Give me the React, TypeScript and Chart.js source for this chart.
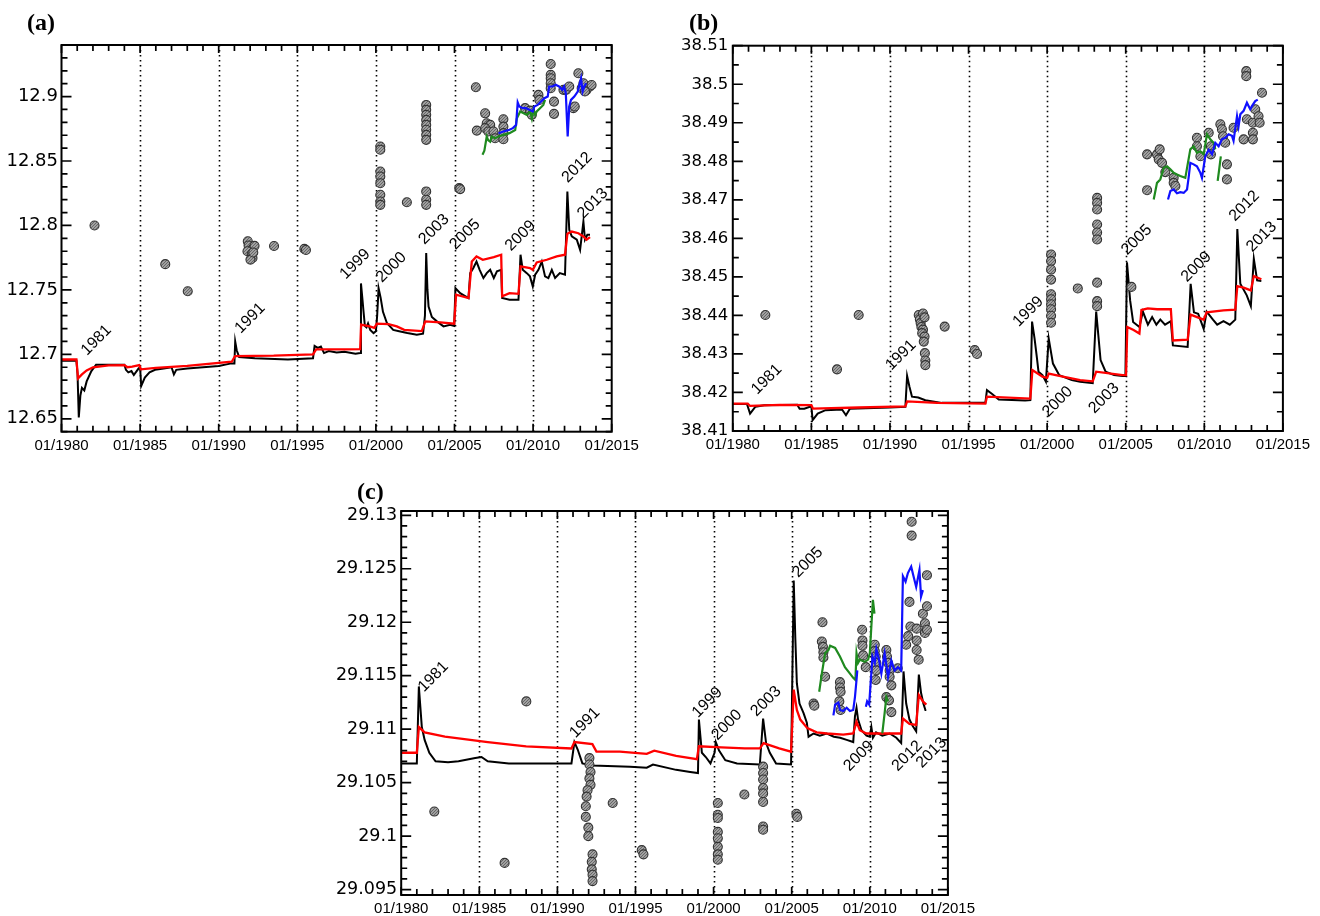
import React, { useEffect, useRef } from 'react';
import { Chart, registerables } from 'chart.js';

Chart.register(...registerables);

type P = [number, number] | null;

// ---------- shared axis data ----------
const xMajorTicks = [1980, 1985, 1990, 1995, 2000, 2005, 2010, 2015];
const dottedYears = [1985, 1990, 1995, 2000, 2005, 2010];
const xMinorStep = 1;

// ---------- panel (a) ----------
const aYTicks = [12.65, 12.7, 12.75, 12.8, 12.85, 12.9];
const aBlack: P[] = [
  [1980.0, 12.695], [1980.95, 12.695], [1981.02, 12.685], [1981.1, 12.651], [1981.2, 12.668], [1981.3, 12.674],
  [1981.45, 12.672], [1981.6, 12.679], [1981.9, 12.687], [1982.2, 12.692], [1983.0, 12.692], [1984.0, 12.692],
  [1984.1, 12.688], [1984.25, 12.686], [1984.45, 12.687], [1984.6, 12.684], [1984.9, 12.689], [1985.0, 12.69],
  [1985.07, 12.6755], [1985.3, 12.682], [1985.6, 12.686], [1985.95, 12.688], [1986.5, 12.689], [1987.0, 12.69],
  [1987.15, 12.6845], [1987.3, 12.688], [1988.0, 12.689], [1989.0, 12.69], [1990.0, 12.691], [1990.8, 12.693],
  [1991.0, 12.693], [1991.05, 12.71], [1991.15, 12.703], [1991.3, 12.698], [1992.3, 12.697], [1994.4, 12.696],
  [1996.0, 12.697], [1996.1, 12.7065], [1996.3, 12.705], [1996.5, 12.706], [1996.7, 12.701], [1997.0, 12.7025],
  [1997.5, 12.7015], [1998.0, 12.702], [1998.7, 12.7005], [1999.0, 12.701], [1999.05, 12.755], [1999.15, 12.742],
  [1999.2, 12.735], [1999.3, 12.722], [1999.4, 12.721], [1999.5, 12.724], [1999.64, 12.719], [1999.85, 12.7165],
  [2000.0, 12.718], [2000.08, 12.73], [2000.17, 12.7514], [2000.3, 12.744], [2000.45, 12.733], [2000.7, 12.7243],
  [2001.1, 12.719], [2001.55, 12.7178], [2002.0, 12.7165], [2002.6, 12.7152], [2003.0, 12.716], [2003.12, 12.73],
  [2003.2, 12.7786], [2003.28, 12.75], [2003.35, 12.737], [2003.56, 12.729], [2003.88, 12.7256], [2004.3, 12.7217],
  [2004.72, 12.723], [2004.98, 12.722], [2005.06, 12.7514], [2005.36, 12.7475], [2005.89, 12.7437], [2006.0, 12.763],
  [2006.2, 12.767], [2006.4, 12.772], [2006.6, 12.7656], [2006.84, 12.7592], [2007.05, 12.763], [2007.27, 12.7656],
  [2007.5, 12.7592], [2007.7, 12.7644], [2007.97, 12.7656], [2008.03, 12.7437], [2008.5, 12.7424], [2009.07, 12.7424],
  [2009.2, 12.7773], [2009.34, 12.7656], [2009.6, 12.763], [2009.8, 12.7605], [2009.98, 12.7527], [2010.13, 12.7618],
  [2010.34, 12.7656], [2010.55, 12.772], [2010.76, 12.7605], [2010.97, 12.7592], [2011.19, 12.7656], [2011.4, 12.7592],
  [2011.7, 12.763], [2012.03, 12.7618], [2012.18, 12.8264], [2012.3, 12.7966], [2012.46, 12.7915], [2012.78, 12.789],
  [2012.99, 12.7811], [2013.2, 12.803], [2013.3, 12.789], [2013.45, 12.7928], [2013.62, 12.7928],
];
const aRed: P[] = [
  [1980.0, 12.696], [1980.95, 12.696], [1981.05, 12.6814], [1981.3, 12.6845], [1981.6, 12.6875], [1982.0, 12.69],
  [1983.0, 12.6915], [1984.0, 12.6917], [1984.2, 12.69], [1984.5, 12.6905], [1984.95, 12.6917], [1985.05, 12.6884],
  [1986.0, 12.6895], [1988.0, 12.691], [1990.83, 12.6943], [1991.04, 12.6987], [1993.5, 12.699], [1996.0, 12.7],
  [1996.2, 12.7039], [1998.0, 12.7039], [1999.0, 12.704], [1999.06, 12.723], [1999.6, 12.7217], [1999.9, 12.7205],
  [2000.06, 12.7238], [2000.8, 12.7235], [2001.33, 12.7217], [2001.8, 12.719], [2002.92, 12.718], [2003.14, 12.7256],
  [2004.1, 12.7248], [2004.98, 12.7238], [2005.1, 12.7463], [2005.89, 12.7437], [2006.1, 12.772], [2006.4, 12.776],
  [2006.8, 12.7734], [2007.5, 12.7755], [2007.97, 12.7773], [2008.03, 12.745], [2008.5, 12.7475], [2009.07, 12.747],
  [2009.2, 12.7682], [2009.8, 12.7669], [2009.98, 12.7656], [2010.23, 12.7713], [2010.87, 12.7734], [2011.5, 12.776],
  [2012.03, 12.7773], [2012.18, 12.7935], [2012.46, 12.7953], [2012.88, 12.794], [2013.2, 12.7915], [2013.4, 12.789],
  [2013.62, 12.791],
];
const aDots: P[] = [
  [1982.1, 12.8], [1986.6, 12.77], [1988.03, 12.749],
  [1991.85, 12.7877], [1991.9, 12.7844], [1992.15, 12.7818], [1991.83, 12.78], [1992.1, 12.7779], [1992.28, 12.7842],
  [1992.15, 12.7748], [1992.02, 12.7735], [1992.2, 12.779],
  [1993.52, 12.7841], [1995.45, 12.7818], [1995.55, 12.781],
  [2000.28, 12.8612], [2000.28, 12.8587], [2000.28, 12.8419], [2000.28, 12.838], [2000.28, 12.8328], [2000.28, 12.8238],
  [2000.28, 12.8186], [2000.28, 12.816], [2001.97, 12.818],
  [2003.2, 12.8935], [2003.2, 12.8897], [2003.2, 12.8858], [2003.2, 12.8819], [2003.2, 12.878], [2003.2, 12.8742],
  [2003.2, 12.8703], [2003.2, 12.8664], [2003.2, 12.8264], [2003.2, 12.82], [2003.2, 12.816],
  [2005.3, 12.829], [2005.36, 12.8282],
  [2006.36, 12.9072], [2006.42, 12.8736], [2006.95, 12.887], [2007.05, 12.8793], [2007.27, 12.878], [2006.95, 12.8755],
  [2007.15, 12.8729], [2007.48, 12.8729], [2007.58, 12.8677], [2008.11, 12.8824], [2008.11, 12.8767], [2008.11, 12.8716],
  [2008.11, 12.8669], [2009.49, 12.891], [2009.81, 12.8891], [2009.92, 12.8858], [2010.34, 12.9013], [2010.4, 12.8974],
  [2011.12, 12.9253], [2011.12, 12.9168], [2011.12, 12.9142], [2011.12, 12.9103], [2011.12, 12.9065], [2011.33, 12.8961],
  [2011.33, 12.8866], [2011.93, 12.9052], [2012.1, 12.9052], [2012.3, 12.9078], [2012.56, 12.891], [2012.65, 12.8923],
  [2012.88, 12.9181], [2013.09, 12.9065], [2013.2, 12.9103], [2013.4, 12.9052], [2013.62, 12.9078], [2013.72, 12.909],
  [2013.3, 12.904],
];
const aGreen: P[] = [
  [2006.78, 12.8548], [2006.9, 12.858], [2007.05, 12.869], [2007.15, 12.866], [2007.27, 12.865], [2007.37, 12.869],
  [2007.58, 12.8677], [2007.8, 12.869], [2008.11, 12.8703], [2008.5, 12.8716], [2008.86, 12.874], [2008.97, 12.8832],
  [2009.18, 12.8884], [2009.4, 12.8871], [2009.6, 12.8858], [2009.81, 12.8884], [2009.92, 12.883], [2010.02, 12.8897],
  [2010.13, 12.8858], [2010.23, 12.8884], [2010.44, 12.891], [2010.65, 12.8935], [2010.76, 12.8974],
];
const aBlue: P[] = [
  [2007.8, 12.8716], [2008.11, 12.8729], [2008.5, 12.8742], [2008.71, 12.8755], [2008.92, 12.878], [2009.02, 12.8954],
  [2009.12, 12.8923], [2009.34, 12.891], [2009.55, 12.891], [2009.76, 12.8897], [2009.98, 12.8884], [2010.08, 12.8923],
  [2010.29, 12.8935], [2010.5, 12.8961], [2010.72, 12.8987], [2010.93, 12.9], [2011.02, 12.9078], [2011.23, 12.9078],
  [2011.44, 12.9091], [2011.65, 12.9078], [2011.86, 12.9052], [2011.97, 12.9078], [2012.08, 12.9026], [2012.2, 12.869],
  [2012.3, 12.8923], [2012.41, 12.8974], [2012.62, 12.9], [2012.84, 12.9039], [2013.05, 12.9142], [2013.15, 12.9039],
  [2013.26, 12.9078], [2013.37, 12.9103],
];
const aNotes: [string, number, number][] = [
  ['1981', 1982.22, 12.711], ['1991', 1992.0, 12.728], ['1999', 1998.68, 12.77], ['2000', 2000.99, 12.7675],
  ['2003', 2003.7, 12.797], ['2005', 2005.67, 12.793], ['2009', 2009.2, 12.792], ['2012', 2012.8, 12.845],
  ['2013', 2013.8, 12.817],
];

// ---------- panel (b) ----------
const bYTicks = [38.41, 38.42, 38.43, 38.44, 38.45, 38.46, 38.47, 38.48, 38.49, 38.5, 38.51];
const bBlack: P[] = [
  [1980.0, 38.417], [1980.9, 38.417], [1981.1, 38.4145], [1981.44, 38.4163], [1982.0, 38.4167], [1984.1, 38.4168],
  [1984.25, 38.4158], [1984.55, 38.4158], [1984.9, 38.4163], [1985.0, 38.4163], [1985.08, 38.4128], [1985.4, 38.4145],
  [1985.9, 38.4154], [1986.95, 38.4156], [1987.2, 38.4141], [1987.45, 38.4158], [1990.0, 38.4161], [1990.98, 38.4163],
  [1991.09, 38.4243], [1991.24, 38.4215], [1991.4, 38.4189], [1991.8, 38.4187], [1992.25, 38.418], [1993.3, 38.4173],
  [1996.07, 38.4173], [1996.17, 38.4206], [1996.5, 38.4196], [1996.92, 38.4182], [1998.6, 38.4179], [1998.93, 38.418],
  [1999.04, 38.4384], [1999.2, 38.434], [1999.34, 38.4293], [1999.45, 38.4254], [1999.7, 38.4245], [1999.92, 38.4228],
  [2000.1, 38.434], [2000.37, 38.4275], [2000.77, 38.4245], [2001.57, 38.4232], [2002.1, 38.4228], [2002.9, 38.4224],
  [2003.12, 38.441], [2003.4, 38.4284], [2003.72, 38.4254], [2004.26, 38.4245], [2004.8, 38.4243], [2004.98, 38.4243],
  [2005.08, 38.4538], [2005.28, 38.4439], [2005.47, 38.4383], [2005.87, 38.437], [2006.09, 38.441], [2006.41, 38.4376],
  [2006.68, 38.4396], [2006.95, 38.4376], [2007.2, 38.4389], [2007.5, 38.4376], [2007.87, 38.4385], [2008.0, 38.4322],
  [2008.94, 38.4318], [2009.13, 38.4482], [2009.34, 38.4408], [2009.61, 38.4404], [2009.96, 38.4365], [2010.15, 38.441],
  [2010.55, 38.4389], [2010.82, 38.4376], [2011.22, 38.4385], [2011.62, 38.4376], [2011.97, 38.4389], [2012.1, 38.4624],
  [2012.29, 38.4482], [2012.7, 38.4452], [2012.96, 38.4424], [2013.15, 38.4547], [2013.36, 38.4491], [2013.63, 38.4489],
];
const bRed: P[] = [
  [1980.0, 38.4171], [1980.95, 38.4171], [1981.1, 38.4165], [1983.0, 38.4168], [1985.0, 38.4167], [1985.1, 38.4158],
  [1988.0, 38.4161], [1990.98, 38.4164], [1991.09, 38.4177], [1993.0, 38.4173], [1996.07, 38.4171], [1996.17, 38.4189],
  [1998.93, 38.4184], [1999.06, 38.4258], [1999.7, 38.4241], [2000.0, 38.4238], [2000.1, 38.4249], [2001.0, 38.4241],
  [2002.1, 38.4232], [2002.9, 38.4229], [2003.12, 38.4254], [2004.8, 38.4245], [2005.02, 38.4245], [2005.1, 38.437],
  [2005.5, 38.4362], [2005.87, 38.4353], [2006.0, 38.4414], [2006.4, 38.4418], [2007.0, 38.4416], [2007.87, 38.4416],
  [2008.0, 38.4335], [2008.94, 38.4337], [2009.13, 38.4402], [2009.96, 38.4389], [2010.15, 38.4408], [2011.22, 38.4413],
  [2011.97, 38.4415], [2012.1, 38.4476], [2012.5, 38.4472], [2012.96, 38.4465], [2013.15, 38.4502], [2013.63, 38.4494],
];
const bDots: P[] = [
  [1982.07, 38.4401], [1986.63, 38.426], [1988.01, 38.4401],
  [1991.83, 38.4401], [1991.9, 38.439], [1991.95, 38.438], [1992.0, 38.437], [1992.1, 38.4363], [1992.05, 38.4354],
  [1992.2, 38.4345], [1992.15, 38.4332], [1992.22, 38.4302], [1992.25, 38.4283], [1992.25, 38.4271], [1992.1, 38.4405],
  [1992.2, 38.4395], [1993.48, 38.4371], [1995.39, 38.431], [1995.54, 38.43],
  [2000.25, 38.4558], [2000.25, 38.4541], [2000.25, 38.4519], [2000.25, 38.4493], [2000.25, 38.4455], [2000.25, 38.4442],
  [2000.25, 38.4429], [2000.25, 38.4416], [2000.25, 38.4399], [2000.25, 38.4381], [2001.95, 38.447],
  [2003.18, 38.4705], [2003.18, 38.4692], [2003.18, 38.4675], [2003.18, 38.4636], [2003.18, 38.4615], [2003.18, 38.4597],
  [2003.18, 38.4485], [2003.18, 38.4437], [2003.18, 38.4424], [2005.36, 38.4474],
  [2006.36, 38.4818], [2006.36, 38.4725], [2006.99, 38.4818], [2007.16, 38.4831], [2007.1, 38.4805], [2007.31, 38.4796],
  [2007.52, 38.4772], [2008.05, 38.4757], [2008.05, 38.4744], [2008.16, 38.4736], [2009.53, 38.4861], [2009.53, 38.4839],
  [2009.75, 38.4813], [2010.28, 38.4874], [2010.42, 38.4839], [2010.42, 38.4818], [2011.02, 38.4896], [2011.12, 38.4883],
  [2011.19, 38.4865], [2011.33, 38.4848], [2011.44, 38.4792], [2011.44, 38.4753], [2011.86, 38.4887], [2012.67, 38.5034],
  [2012.67, 38.5021], [2012.5, 38.4857], [2012.71, 38.4909], [2013.09, 38.49], [2013.09, 38.4874], [2013.09, 38.4857],
  [2013.24, 38.4935], [2013.45, 38.4917], [2013.52, 38.49], [2013.67, 38.4978],
];
const bGreen: P[] = [
  [2006.78, 38.4701], [2006.99, 38.4744], [2007.2, 38.4753], [2007.42, 38.4783], [2007.63, 38.4787], [2007.84, 38.4779],
  [2008.05, 38.477], [2008.26, 38.4766], [2008.47, 38.4762], [2008.79, 38.4757], [2009.11, 38.4831], [2009.32, 38.4839],
  [2009.53, 38.4822], [2009.75, 38.4826], [2009.96, 38.4818], [2010.17, 38.487], [2010.38, 38.4857], [2010.59, 38.4848],
  [2010.7, 38.4831], null, [2010.85, 38.4749], [2010.95, 38.478], [2011.05, 38.4813],
];
const bBlue: P[] = [
  [2007.69, 38.4701], [2007.84, 38.4723], [2008.05, 38.4727], [2008.26, 38.4717], [2008.47, 38.472], [2008.69, 38.4718],
  [2008.9, 38.4727], [2009.0, 38.4757], [2009.11, 38.4796], [2009.32, 38.4792], [2009.53, 38.4787], [2009.75, 38.477],
  [2009.85, 38.4757], [2010.06, 38.4813], [2010.28, 38.483], [2010.49, 38.4818], [2010.7, 38.4848], [2010.91, 38.4839],
  [2011.12, 38.4857], [2011.33, 38.4861], [2011.55, 38.487], [2011.76, 38.4866], [2011.86, 38.4853], [2012.08, 38.4917],
  [2012.18, 38.4891], [2012.29, 38.4922], [2012.5, 38.4931], [2012.71, 38.4952], [2012.92, 38.4935], [2013.03, 38.4943],
  [2013.24, 38.4956], [2013.4, 38.496],
];
const bNotes: [string, number, number][] = [
  ['1981', 1982.16, 38.4234], ['1991', 1990.7, 38.4297], ['1999', 1998.8, 38.441], ['2000', 2000.67, 38.4176],
  ['2003', 2003.62, 38.4185], ['2005', 2005.7, 38.4596], ['2009', 2009.5, 38.4526], ['2012', 2012.55, 38.4684],
  ['2013', 2013.65, 38.4604],
];

// ---------- panel (c) ----------
const cYTicks = [29.095, 29.1, 29.105, 29.11, 29.115, 29.12, 29.125, 29.13];
const cBlack: P[] = [
  [1980.0, 29.1068], [1981.0, 29.1068], [1981.13, 29.114], [1981.32, 29.1102], [1981.5, 29.109], [1981.8, 29.1078],
  [1982.2, 29.107], [1983.0, 29.1069], [1983.67, 29.107], [1984.74, 29.1073], [1985.14, 29.1074], [1985.54, 29.107],
  [1986.89, 29.1068], [1988.5, 29.1068], [1990.9, 29.1068], [1991.09, 29.1088], [1991.3, 29.1081], [1991.6, 29.1068],
  [1992.24, 29.1066], [1994.65, 29.1065], [1995.72, 29.1064], [1996.12, 29.1067], [1997.6, 29.1062], [1998.5, 29.106],
  [1999.0, 29.1059], [1999.06, 29.1109], [1999.25, 29.1078], [1999.5, 29.1074], [1999.8, 29.1068], [2000.06, 29.1078],
  [2000.14, 29.1088], [2000.35, 29.108], [2000.75, 29.1071], [2001.5, 29.1068], [2002.96, 29.1067], [2003.17, 29.111],
  [2003.36, 29.1087], [2003.6, 29.1078], [2004.0, 29.1068], [2004.96, 29.1067], [2005.13, 29.1239], [2005.23, 29.1186],
  [2005.33, 29.1143], [2005.5, 29.1124], [2005.76, 29.1115], [2005.97, 29.1106], [2006.08, 29.1093], [2006.4, 29.1096],
  [2006.8, 29.1094], [2007.25, 29.1096], [2007.7, 29.1093], [2008.1, 29.1092], [2008.52, 29.109], [2008.94, 29.1088],
  [2009.05, 29.1112], [2009.15, 29.112], [2009.25, 29.1109], [2009.47, 29.1099], [2009.79, 29.1094], [2010.0, 29.1093],
  [2010.1, 29.1102], [2010.2, 29.1092], [2010.4, 29.1097], [2010.8, 29.1094], [2011.27, 29.1096], [2011.7, 29.1092],
  [2012.01, 29.1087], [2012.16, 29.1154], [2012.33, 29.1124], [2012.54, 29.1109], [2012.75, 29.1103], [2012.97, 29.1098],
  [2013.14, 29.1151], [2013.28, 29.1134], [2013.43, 29.1124], [2013.56, 29.1118], [2013.62, 29.1118],
];
const cRed: P[] = [
  [1980.0, 29.1078], [1981.0, 29.1078], [1981.13, 29.1102], [1981.5, 29.1097], [1982.8, 29.1093], [1985.54, 29.1088],
  [1988.0, 29.1084], [1990.9, 29.1082], [1991.09, 29.1088], [1992.24, 29.1086], [1992.5, 29.1079], [1994.0, 29.1079],
  [1995.72, 29.1077], [1996.2, 29.108], [1997.6, 29.1075], [1998.93, 29.1072], [1999.06, 29.1084], [2000.5, 29.1083],
  [2002.0, 29.1082], [2002.96, 29.1082], [2003.2, 29.1087], [2004.2, 29.1082], [2004.96, 29.1079], [2005.13, 29.1137],
  [2005.33, 29.1118], [2005.55, 29.1109], [2006.0, 29.1101], [2006.6, 29.1097], [2007.25, 29.1096], [2008.3, 29.1095],
  [2008.94, 29.1096], [2009.15, 29.1107], [2009.36, 29.1099], [2009.79, 29.1096], [2011.0, 29.1096], [2012.01, 29.1096],
  [2012.12, 29.111], [2012.54, 29.1105], [2012.97, 29.1104], [2013.14, 29.1132], [2013.4, 29.1126], [2013.62, 29.1123],
];
const cDots: P[] = [
  [1982.12, 29.1023], [1986.62, 29.0975], [1988.01, 29.1126],
  [1992.05, 29.1073], [1992.05, 29.1067], [1992.12, 29.106], [1992.05, 29.1054], [1992.12, 29.1048], [1991.93, 29.1043],
  [1991.87, 29.1037], [1991.82, 29.1028], [1991.82, 29.1018], [1991.98, 29.1008], [1991.98, 29.1], [1992.25, 29.0983],
  [1992.2, 29.0976], [1992.2, 29.0969], [1992.25, 29.0964], [1992.25, 29.0958],
  [1993.54, 29.1031], [1995.4, 29.0987], [1995.51, 29.0983],
  [2000.27, 29.1031], [2000.27, 29.102], [2000.27, 29.1017], [2000.27, 29.1004], [2000.27, 29.0998], [2000.27, 29.099],
  [2000.27, 29.0983], [2000.27, 29.0978], [2001.97, 29.1039],
  [2003.17, 29.1065], [2003.17, 29.1059], [2003.17, 29.1053], [2003.17, 29.1045], [2003.17, 29.104], [2003.17, 29.1032],
  [2003.17, 29.1009], [2003.17, 29.1006], [2005.3, 29.1021], [2005.36, 29.1018],
  [2006.4, 29.1124], [2006.45, 29.1122],
  [2006.97, 29.12], [2006.93, 29.1182], [2007.0, 29.1177], [2007.03, 29.1172], [2007.03, 29.1167], [2007.14, 29.1149],
  [2008.09, 29.1144], [2008.09, 29.1139], [2008.13, 29.1135], [2008.05, 29.1126], [2008.13, 29.1118],
  [2009.51, 29.1193], [2009.53, 29.1183], [2009.53, 29.1178], [2009.57, 29.1169], [2009.74, 29.1158],
  [2010.32, 29.1179], [2010.32, 29.1173], [2010.38, 29.1168], [2010.42, 29.1162], [2010.42, 29.1155], [2010.38, 29.1146],
  [2011.06, 29.1174], [2011.1, 29.1168], [2011.17, 29.1162], [2011.27, 29.1155], [2011.27, 29.1149], [2011.38, 29.1141],
  [2011.06, 29.113], [2011.23, 29.1127], [2011.38, 29.1116],
  [2011.79, 29.1157], [2012.33, 29.1179], [2012.46, 29.1187], [2012.6, 29.1196], [2012.54, 29.1219], [2013.0, 29.1194],
  [2013.0, 29.1183], [2013.0, 29.1174], [2013.13, 29.1165], [2013.4, 29.1208], [2013.53, 29.1199], [2013.53, 29.119],
  [2013.66, 29.1193], [2013.66, 29.1215], [2012.68, 29.1294], [2012.68, 29.1281], [2013.66, 29.1244],
];
const cGreen: P[] = [
  [2006.76, 29.1135], [2006.93, 29.1152], [2007.14, 29.1171], [2007.35, 29.1174], [2007.46, 29.1178], [2007.78, 29.1176],
  [2008.09, 29.1168], [2008.41, 29.1158], [2008.73, 29.1152], [2008.94, 29.1148], [2009.08, 29.1146], [2009.15, 29.1171],
  [2009.25, 29.1162], [2009.36, 29.1165], [2009.68, 29.1163], [2009.89, 29.1165], [2010.0, 29.1171], [2010.1, 29.1196],
  [2010.2, 29.1221], [2010.3, 29.1208], null,
  [2010.8, 29.1096], [2010.95, 29.1115], [2011.06, 29.113], [2011.17, 29.1126],
];
const cBlue: P[] = [
  [2007.67, 29.1113], [2007.78, 29.1123], [2007.99, 29.1125], [2008.09, 29.1118], [2008.3, 29.1117], [2008.52, 29.112],
  [2008.73, 29.1117], [2008.94, 29.1118], [2009.05, 29.113], [2009.15, 29.1146], [2009.2, 29.1155], null,
  [2009.75, 29.1121], [2009.83, 29.1126], [2009.96, 29.1123], [2010.04, 29.114], [2010.17, 29.1168], [2010.32, 29.1162],
  [2010.42, 29.1175], [2010.59, 29.1165], [2010.74, 29.1152], [2010.95, 29.1171], [2011.17, 29.1149], [2011.38, 29.1164],
  [2011.59, 29.1155], [2011.8, 29.1158], [2012.01, 29.1155], [2012.12, 29.1243], [2012.29, 29.1238], [2012.44, 29.1246],
  [2012.65, 29.1252], [2012.8, 29.1243], [2012.97, 29.1233], [2013.18, 29.1249], [2013.28, 29.1224], [2013.4, 29.123],
];
const cNotes: [string, number, number][] = [
  ['1981', 1982.06, 29.1149], ['1991', 1991.76, 29.1106], ['1999', 1999.6, 29.1125], ['2000', 2000.85, 29.1104],
  ['2003', 2003.36, 29.1126], ['2005', 2006.03, 29.1256], ['2009', 2009.3, 29.1075], ['2012', 2012.4, 29.1075],
  ['2013', 2013.95, 29.1078],
];

// ---------- component ----------
interface PanelProps {
  title: string;
  left: number; top: number; width: number; height: number;
  area: { l: number; t: number; r: number; b: number };
  yMin: number; yMax: number; yTicks: number[]; yMinorStep: number;
  yFont: number; yPad: number;
  black: P[]; red: P[]; dots: P[]; green: P[]; blue: P[];
  notes: [string, number, number][];
  titlePos: { x: number; y: number };
}

const toXY = (arr: P[]) => {
  const out: { x: number; y: number | null }[] = [];
  let lastX = 0;
  for (const p of arr) {
    if (p) { out.push({ x: p[0], y: p[1] }); lastX = p[0]; }
    else out.push({ x: lastX + 0.01, y: null });
  }
  return out;
};

const fmt = (v: number) => String(parseFloat(v.toFixed(4)));

function Panel(props: PanelProps) {
  const ref = useRef<HTMLCanvasElement | null>(null);
  useEffect(() => {
    const canvas = ref.current;
    if (!canvas) return;
    const { area, width, height } = props;

    const pc = document.createElement('canvas');
    pc.width = 3; pc.height = 3;
    const pctx = pc.getContext('2d')!;
    pctx.fillStyle = '#a0a0a0'; pctx.fillRect(0, 0, 3, 3);
    pctx.fillStyle = '#666666';
    pctx.fillRect(0, 0, 1, 1); pctx.fillRect(2, 1, 1, 1); pctx.fillRect(1, 2, 1, 1);
    const pattern = canvas.getContext('2d')!.createPattern(pc, 'repeat') || '#8c8c8c';

    const isMajor = (v: number, list: number[], eps: number) => list.some((m) => Math.abs(m - v) < eps);

    const framePlugin = {
      id: 'frameTicks',
      beforeDatasetsDraw(chart: any) {
        const { ctx, chartArea: a, scales } = chart;
        const x = scales.x;
        ctx.save();
        ctx.strokeStyle = '#000';
        ctx.lineWidth = 1.6;
        ctx.setLineDash([1.6, 3.4]);
        for (const yr of dottedYears) {
          const px = Math.round(x.getPixelForValue(yr)) + 0.5;
          ctx.beginPath(); ctx.moveTo(px, a.top); ctx.lineTo(px, a.bottom); ctx.stroke();
        }
        ctx.restore();
      },
      afterDatasetsDraw(chart: any) {
        const { ctx, chartArea: a, scales } = chart;
        const x = scales.x, y = scales.y;
        ctx.save();
        ctx.strokeStyle = '#000';
        ctx.lineWidth = 2;
        ctx.setLineDash([]);
        ctx.strokeRect(a.left, a.top, a.right - a.left, a.bottom - a.top);
        ctx.lineWidth = 1.7;
        // x ticks (top and bottom, inward)
        for (let yr = xMajorTicks[0]; yr <= xMajorTicks[xMajorTicks.length - 1]; yr += xMinorStep) {
          const px = x.getPixelForValue(yr);
          const len = isMajor(yr, xMajorTicks, 1e-6) ? 8 : 6;
          ctx.beginPath();
          ctx.moveTo(px, a.bottom); ctx.lineTo(px, a.bottom - len);
          ctx.moveTo(px, a.top); ctx.lineTo(px, a.top + len);
          ctx.stroke();
        }
        // y ticks (left and right, inward)
        const step = props.yMinorStep;
        const i0 = Math.ceil(props.yMin / step - 1e-6);
        const i1 = Math.floor(props.yMax / step + 1e-6);
        for (let i = i0; i <= i1; i++) {
          const v = i * step;
          const py = y.getPixelForValue(v);
          const len = isMajor(v, props.yTicks, step / 10) ? 10 : 6;
          ctx.beginPath();
          ctx.moveTo(a.left, py); ctx.lineTo(a.left + len, py);
          ctx.moveTo(a.right, py); ctx.lineTo(a.right - len, py);
          ctx.stroke();
        }
        // year annotations
        ctx.fillStyle = '#000';
        ctx.font = '16px "Liberation Sans", Arial, sans-serif';
        ctx.textAlign = 'center';
        ctx.textBaseline = 'middle';
        for (const [t, nx, ny] of props.notes) {
          ctx.save();
          ctx.translate(x.getPixelForValue(nx), y.getPixelForValue(ny));
          ctx.rotate(-Math.PI / 4);
          ctx.fillText(t, 0, 0);
          ctx.restore();
        }
        ctx.restore();
      },
    };

    const lineDs = (data: P[], color: string, w: number, order: number) => ({
      data: toXY(data),
      borderColor: color,
      backgroundColor: color,
      borderWidth: w,
      pointRadius: 0,
      fill: false,
      tension: 0,
      spanGaps: false,
      order,
    });

    const chart = new Chart(canvas, {
      type: 'line',
      data: {
        datasets: [
          lineDs(props.black, '#000000', 2, 4) as any,
          lineDs(props.red, '#ff0000', 2.3, 3) as any,
          {
            data: toXY(props.dots),
            showLine: false,
            pointRadius: 4.5,
            pointBackgroundColor: pattern,
            pointBorderColor: '#333333',
            pointBorderWidth: 1.1,
            order: 2,
          } as any,
          lineDs(props.green, '#1f8a1f', 2.2, 1) as any,
          lineDs(props.blue, '#1010ff', 2.2, 0) as any,
        ],
      },
      options: {
        responsive: false,
        maintainAspectRatio: false,
        animation: false,
        layout: { padding: { left: 0, top: area.t, right: width - area.r, bottom: 0 } },
        plugins: { legend: { display: false }, tooltip: { enabled: false }, title: { display: false } },
        scales: {
          x: {
            type: 'linear',
            min: 1980,
            max: 2015,
            grid: { display: false, drawTicks: false },
            border: { display: false },
            afterBuildTicks: (s: any) => { s.ticks = xMajorTicks.map((v) => ({ value: v })); },
            afterFit: (s: any) => { s.height = height - area.b; },
            ticks: {
              autoSkip: false,
              maxRotation: 0,
              padding: 5,
              color: '#000',
              font: { family: '"Liberation Sans", Arial, sans-serif', size: 15 },
              callback: (v: any) => '01/' + v,
            },
          },
          y: {
            type: 'linear',
            min: props.yMin,
            max: props.yMax,
            grid: { display: false, drawTicks: false },
            border: { display: false },
            afterBuildTicks: (s: any) => { s.ticks = props.yTicks.map((v) => ({ value: v })); },
            afterFit: (s: any) => { s.width = area.l; },
            ticks: {
              padding: props.yPad,
              color: '#000',
              font: { family: '"DejaVu Sans", "Liberation Sans", sans-serif', size: props.yFont },
              callback: (v: any) => fmt(Number(v)),
            },
          },
        },
      } as any,
      plugins: [framePlugin],
    });
    return () => chart.destroy();
  }, []);

  return (
    <div style={{ position: 'absolute', left: props.left, top: props.top, width: props.width, height: props.height }}>
      <canvas ref={ref} width={props.width} height={props.height} style={{ width: props.width, height: props.height, display: 'block' }} />
      <div
        style={{
          position: 'absolute',
          left: props.titlePos.x,
          top: props.titlePos.y,
          font: 'bold 24px "Liberation Serif", "Times New Roman", serif',
          color: '#000',
          lineHeight: '24px',
          whiteSpace: 'nowrap',
        }}
      >
        {props.title}
      </div>
    </div>
  );
}

export default function App() {
  return (
    <div style={{ position: 'fixed', left: 0, top: 0, width: 1320, height: 916, background: '#fff', overflow: 'hidden' }}>
      <Panel
        title="(a)" left={0} top={0} width={660} height={460}
        area={{ l: 61.5, t: 45, r: 611.7, b: 431.7 }}
        yMin={12.64} yMax={12.94} yTicks={aYTicks} yMinorStep={0.01} yFont={18} yPad={3.5}
        black={aBlack} red={aRed} dots={aDots} green={aGreen} blue={aBlue} notes={aNotes}
        titlePos={{ x: 27, y: 10 }}
      />
      <Panel
        title="(b)" left={660} top={0} width={660} height={460}
        area={{ l: 72.8, t: 45.7, r: 622.9, b: 431 }}
        yMin={38.41} yMax={38.51} yTicks={bYTicks} yMinorStep={0.005} yFont={16.5} yPad={4.5}
        black={bBlack} red={bRed} dots={bDots} green={bGreen} blue={bBlue} notes={bNotes}
        titlePos={{ x: 29, y: 10 }}
      />
      <Panel
        title="(c)" left={320} top={460} width={660} height={456}
        area={{ l: 81.2, t: 51, r: 631.3, b: 435 }}
        yMin={29.0945} yMax={29.1304} yTicks={cYTicks} yMinorStep={0.001} yFont={17.5} yPad={4}
        black={cBlack} red={cRed} dots={cDots} green={cGreen} blue={cBlue} notes={cNotes}
        titlePos={{ x: 37, y: 19 }}
      />
    </div>
  );
}
